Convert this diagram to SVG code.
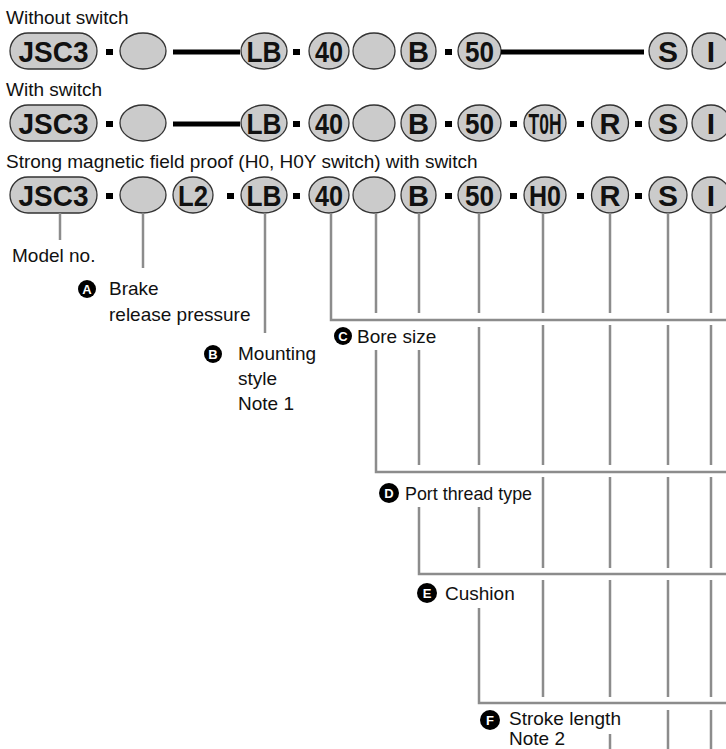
<svg xmlns="http://www.w3.org/2000/svg" width="726" height="749" viewBox="0 0 726 749">
<style>
.el{fill:#cbcbcb;stroke:#333;stroke-width:1.3}
.lb{font-family:"Liberation Sans",Arial,sans-serif;font-weight:bold;font-size:30px;text-anchor:middle;fill:#111}
.ds{fill:#000}
.bar{stroke:#000;stroke-width:5}
.t{font-family:"Liberation Sans",Arial,sans-serif;font-size:19px;fill:#111}
.cn{stroke:#8c8c8c;stroke-width:2.5;fill:none}
.bc{fill:#000}
.bt{font-family:"Liberation Sans",Arial,sans-serif;font-size:13px;font-weight:bold;fill:#fff;text-anchor:middle}
</style>
<rect width="726" height="749" fill="#fff"/>

<g id="headings">
<text class="t" x="6" y="24">Without switch</text>
<text class="t" x="6" y="96">With switch</text>
<text class="t" x="6" y="168">Strong magnetic field proof (H0, H0Y switch) with switch</text>
</g>

<g id="row1">
<rect class="el" x="10" y="33" width="87" height="36" rx="18"/><text class="lb" x="53.5" y="62" textLength="70" lengthAdjust="spacingAndGlyphs">JSC3</text>
<rect class="ds" x="106" y="49" width="7" height="6"/>
<ellipse class="el" cx="143" cy="51" rx="23" ry="18"/>
<line class="bar" x1="173" y1="52" x2="240" y2="52"/>
<ellipse class="el" cx="264" cy="51" rx="23" ry="18"/><text class="lb" x="264" y="62" textLength="35" lengthAdjust="spacingAndGlyphs">LB</text>
<rect class="ds" x="293" y="49" width="7" height="6"/>
<ellipse class="el" cx="329" cy="51" rx="20" ry="18"/><text class="lb" x="329" y="62" textLength="28" lengthAdjust="spacingAndGlyphs">40</text>
<ellipse class="el" cx="374" cy="51" rx="21" ry="18"/>
<ellipse class="el" cx="418.5" cy="51" rx="17.5" ry="18"/><text class="lb" x="418.5" y="62" textLength="21" lengthAdjust="spacingAndGlyphs">B</text>
<rect class="ds" x="445" y="49" width="7" height="6"/>
<ellipse class="el" cx="479.5" cy="51" rx="21.5" ry="18"/><text class="lb" x="479.5" y="62" textLength="29" lengthAdjust="spacingAndGlyphs">50</text>
<line class="bar" x1="501" y1="52" x2="644" y2="52"/>
<ellipse class="el" cx="668" cy="51" rx="19" ry="18"/><text class="lb" x="668" y="62" textLength="20" lengthAdjust="spacingAndGlyphs">S</text>
<ellipse class="el" cx="711" cy="51" rx="19" ry="18"/><text class="lb" x="711" y="62">I</text>
</g>

<g id="row2">
<rect class="el" x="10" y="105" width="87" height="36" rx="18"/><text class="lb" x="53.5" y="134" textLength="70" lengthAdjust="spacingAndGlyphs">JSC3</text>
<rect class="ds" x="106" y="121" width="7" height="6"/>
<ellipse class="el" cx="143" cy="123" rx="23" ry="18"/>
<line class="bar" x1="173" y1="124" x2="240" y2="124"/>
<ellipse class="el" cx="264" cy="123" rx="23" ry="18"/><text class="lb" x="264" y="134" textLength="35" lengthAdjust="spacingAndGlyphs">LB</text>
<rect class="ds" x="293" y="121" width="7" height="6"/>
<ellipse class="el" cx="329" cy="123" rx="20" ry="18"/><text class="lb" x="329" y="134" textLength="28" lengthAdjust="spacingAndGlyphs">40</text>
<ellipse class="el" cx="374" cy="123" rx="21" ry="18"/>
<ellipse class="el" cx="418.5" cy="123" rx="17.5" ry="18"/><text class="lb" x="418.5" y="134" textLength="21" lengthAdjust="spacingAndGlyphs">B</text>
<rect class="ds" x="445" y="121" width="7" height="6"/>
<ellipse class="el" cx="479.5" cy="123" rx="21.5" ry="18"/><text class="lb" x="479.5" y="134" textLength="29" lengthAdjust="spacingAndGlyphs">50</text>
<rect class="ds" x="510" y="121" width="7" height="6"/>
<ellipse class="el" cx="545" cy="123" rx="21" ry="18"/><text class="lb" x="545" y="134" textLength="33" lengthAdjust="spacingAndGlyphs">T0H</text>
<rect class="ds" x="577" y="121" width="7" height="6"/>
<ellipse class="el" cx="610" cy="123" rx="18.5" ry="18"/><text class="lb" x="610" y="134" textLength="21" lengthAdjust="spacingAndGlyphs">R</text>
<rect class="ds" x="635" y="121" width="7" height="6"/>
<ellipse class="el" cx="668" cy="123" rx="19" ry="18"/><text class="lb" x="668" y="134" textLength="20" lengthAdjust="spacingAndGlyphs">S</text>
<ellipse class="el" cx="711" cy="123" rx="19" ry="18"/><text class="lb" x="711" y="134">I</text>
</g>

<g id="row3">
<rect class="el" x="10" y="177" width="87" height="36" rx="18"/><text class="lb" x="53.5" y="206" textLength="70" lengthAdjust="spacingAndGlyphs">JSC3</text>
<rect class="ds" x="106" y="193" width="7" height="6"/>
<ellipse class="el" cx="143" cy="195" rx="23" ry="18"/>
<ellipse class="el" cx="193" cy="195" rx="20" ry="18"/><text class="lb" x="193" y="206" textLength="30" lengthAdjust="spacingAndGlyphs">L2</text>
<rect class="ds" x="227" y="193" width="7" height="6"/>
<ellipse class="el" cx="264" cy="195" rx="23" ry="18"/><text class="lb" x="264" y="206" textLength="35" lengthAdjust="spacingAndGlyphs">LB</text>
<rect class="ds" x="293" y="193" width="7" height="6"/>
<ellipse class="el" cx="329" cy="195" rx="20" ry="18"/><text class="lb" x="329" y="206" textLength="28" lengthAdjust="spacingAndGlyphs">40</text>
<ellipse class="el" cx="374" cy="195" rx="21" ry="18"/>
<ellipse class="el" cx="418.5" cy="195" rx="17.5" ry="18"/><text class="lb" x="418.5" y="206" textLength="21" lengthAdjust="spacingAndGlyphs">B</text>
<rect class="ds" x="445" y="193" width="7" height="6"/>
<ellipse class="el" cx="479.5" cy="195" rx="21.5" ry="18"/><text class="lb" x="479.5" y="206" textLength="29" lengthAdjust="spacingAndGlyphs">50</text>
<rect class="ds" x="510" y="193" width="7" height="6"/>
<ellipse class="el" cx="545" cy="195" rx="21" ry="18"/><text class="lb" x="545" y="206" textLength="32" lengthAdjust="spacingAndGlyphs">H0</text>
<rect class="ds" x="577" y="193" width="7" height="6"/>
<ellipse class="el" cx="610" cy="195" rx="18.5" ry="18"/><text class="lb" x="610" y="206" textLength="21" lengthAdjust="spacingAndGlyphs">R</text>
<rect class="ds" x="635" y="193" width="7" height="6"/>
<ellipse class="el" cx="668" cy="195" rx="19" ry="18"/><text class="lb" x="668" y="206" textLength="20" lengthAdjust="spacingAndGlyphs">S</text>
<ellipse class="el" cx="711" cy="195" rx="19" ry="18"/><text class="lb" x="711" y="206">I</text>
</g>

<g id="connectors" class="cn">
<path d="M60 213V240"/>
<path d="M143 213V268"/>
<path d="M265 213V333"/>
<path d="M331 213V320H726"/>
<path d="M376 213V313M376 350V472H726"/>
<path d="M419 213V313M419 350V465M419 507V574H726"/>
<path d="M479 213V313M479 327V465M479 507V568M479 608V703H726"/>
<path d="M543 213V313M543 325V465M543 477V568M543 580V697"/>
<path d="M610 213V313M610 325V465M610 477V568M610 580V697M610 734V749"/>
<path d="M668 213V313M668 325V465M668 477V568M668 580V697M668 710V749"/>
<path d="M711 213V313M711 325V465M711 477V568M711 580V697M711 710V749"/>
</g>

<g id="model-no"><text class="t" x="12" y="262">Model no.</text></g>
<g id="brake">
<circle class="bc" cx="87" cy="289" r="9"/><text class="bt" x="87" y="293.5">A</text>
<text class="t" x="109" y="295">Brake</text>
<text class="t" x="109" y="321">release pressure</text>
</g>
<g id="mounting">
<circle class="bc" cx="213" cy="354" r="9"/><text class="bt" x="213" y="358.5">B</text>
<text class="t" x="238" y="360">Mounting</text>
<text class="t" x="238" y="385">style</text>
<text class="t" x="238" y="410">Note 1</text>
</g>
<g id="bore">
<circle class="bc" cx="343" cy="336" r="9"/><text class="bt" x="343" y="340.5">C</text>
<text class="t" x="357" y="343">Bore size</text>
</g>
<g id="port">
<circle class="bc" cx="389" cy="493" r="10"/><text class="bt" x="389" y="497.5">D</text>
<text class="t" x="405" y="500" font-size="17" textLength="127" lengthAdjust="spacingAndGlyphs">Port thread type</text>
</g>
<g id="cushion">
<circle class="bc" cx="427" cy="593" r="10"/><text class="bt" x="427" y="597.5">E</text>
<text class="t" x="445" y="600">Cushion</text>
</g>
<g id="stroke">
<circle class="bc" cx="490" cy="720" r="10"/><text class="bt" x="490" y="724.5">F</text>
<text class="t" x="509" y="725" font-size="16">Stroke length</text>
<text class="t" x="509" y="745" font-size="16">Note 2</text>
</g>
</svg>
